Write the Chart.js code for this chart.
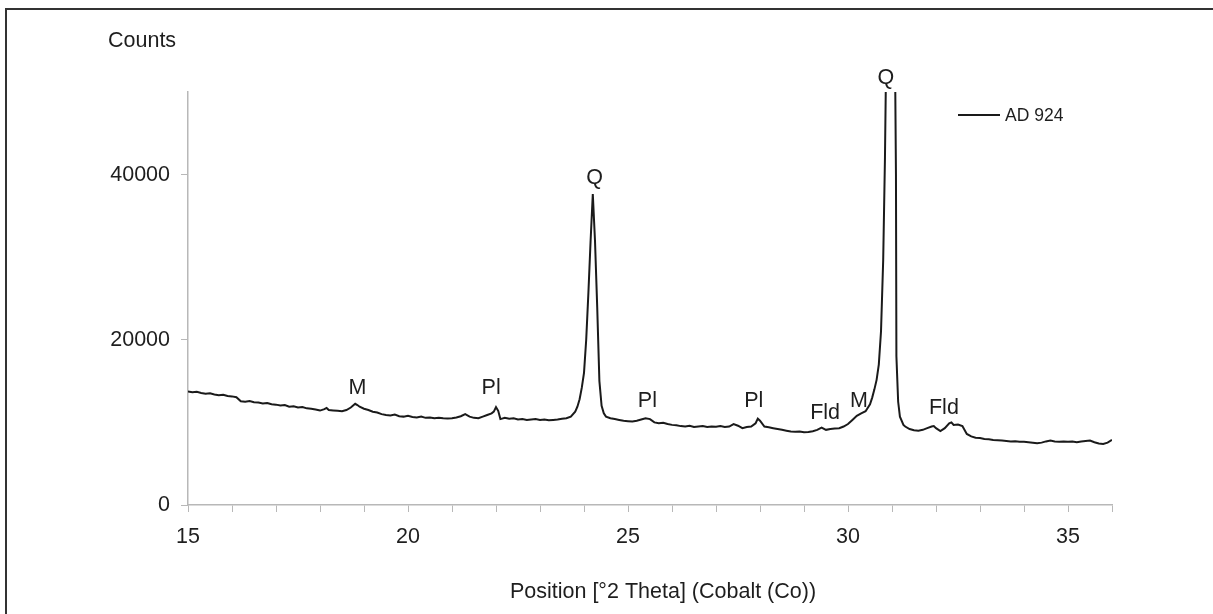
<!DOCTYPE html>
<html>
<head>
<meta charset="utf-8">
<script src="https://cdn.jsdelivr.net/npm/chart.js@4.4.1/dist/chart.umd.min.js"></script>
<style>
  html, body { margin: 0; padding: 0; background: #fff; }
  #wrap { width: 1213px; height: 614px; position: relative; }
</style>
</head>
<body>
<div id="wrap"><canvas id="myChart" width="1213" height="614"></canvas></div>
<script>
// diffractogram, AD 924
const theta = [
  15.0, 15.1, 15.2, 15.3, 15.4, 15.5, 15.6, 15.7, 15.8, 15.9,
  16.0, 16.1, 16.2, 16.3, 16.4, 16.5, 16.6, 16.7, 16.8, 16.9,
  17.0, 17.1, 17.2, 17.3, 17.4, 17.5, 17.6, 17.7, 17.8, 17.9,
  18.0, 18.1, 18.15, 18.2, 18.3, 18.4, 18.5, 18.6, 18.7, 18.8, 18.85, 18.9,
  19.0, 19.1, 19.2, 19.3, 19.4, 19.5, 19.6, 19.7, 19.8, 19.9,
  20.0, 20.1, 20.2, 20.3, 20.4, 20.5, 20.6, 20.7, 20.8, 20.9,
  21.0, 21.1, 21.2, 21.3, 21.4, 21.5, 21.6, 21.7, 21.8, 21.9, 21.95,
  22.0, 22.05, 22.1, 22.2, 22.3, 22.4, 22.5, 22.6, 22.7, 22.8, 22.9,
  23.0, 23.1, 23.2, 23.3, 23.4, 23.5, 23.6, 23.7, 23.8, 23.85, 23.9, 23.95,
  24.0, 24.05, 24.1, 24.15, 24.2, 24.25, 24.3, 24.35, 24.4, 24.45, 24.5, 24.6, 24.7, 24.8, 24.9,
  25.0, 25.1, 25.2, 25.3, 25.4, 25.5, 25.6, 25.7, 25.8, 25.9,
  26.0, 26.1, 26.2, 26.3, 26.4, 26.5, 26.6, 26.7, 26.8, 26.9,
  27.0, 27.1, 27.2, 27.3, 27.4, 27.5, 27.6, 27.7, 27.8, 27.9, 27.95,
  28.0, 28.1, 28.2, 28.3, 28.4, 28.5, 28.6, 28.7, 28.8, 28.9,
  29.0, 29.1, 29.2, 29.3, 29.4, 29.5, 29.6, 29.7, 29.8, 29.9,
  30.0, 30.1, 30.2, 30.3, 30.4, 30.5, 30.55, 30.6, 30.65, 30.7, 30.75, 30.8, 30.84, 30.88, 30.97,
  31.06, 31.09, 31.1, 31.14, 31.18, 31.26, 31.3, 31.4, 31.5, 31.6, 31.7, 31.8, 31.9, 31.95,
  32.0, 32.1, 32.2, 32.3, 32.35, 32.4, 32.5, 32.6, 32.7, 32.8, 32.9,
  33.0, 33.1, 33.2, 33.3, 33.4, 33.5, 33.6, 33.7, 33.8, 33.9,
  34.0, 34.1, 34.2, 34.3, 34.4, 34.5, 34.6, 34.7, 34.8, 34.9,
  35.0, 35.1, 35.2, 35.3, 35.4, 35.5, 35.6, 35.7, 35.8, 35.9, 36.0
];
const counts = [
  13730, 13650, 13700, 13560, 13480, 13520, 13380, 13300, 13350, 13200,
  13150, 13050, 12550, 12500, 12580, 12450, 12400, 12300, 12350, 12200,
  12150, 12050, 12100, 11900, 11950, 11800, 11850, 11700, 11650, 11550,
  11430, 11600, 11750, 11500, 11450, 11400, 11350, 11500, 11800, 12250, 12100, 11900,
  11650, 11500, 11300, 11200, 11000, 10900, 10850, 10950, 10750, 10700,
  10800, 10650, 10600, 10700, 10550, 10600, 10500, 10550, 10500, 10480,
  10500, 10600, 10750, 11000, 10700, 10550, 10500, 10700, 10900, 11100, 11300,
  11850, 11400, 10400, 10550, 10450, 10500, 10350, 10400, 10300, 10350, 10400,
  10300, 10350, 10250, 10300, 10350, 10450, 10500, 10700, 11300, 11900, 12800, 14200,
  16000, 20000, 25700, 32000, 37650, 32000, 24000, 15000, 12000, 11100, 10700, 10500, 10400, 10300, 10200,
  10150, 10100, 10200, 10350, 10500, 10400, 10000, 9900, 9950, 9800,
  9700, 9650, 9550, 9500, 9600, 9450, 9500, 9550, 9450, 9500,
  9480, 9550, 9450, 9500, 9800, 9600, 9300, 9450, 9500, 9900, 10450,
  10200, 9500, 9400, 9300, 9200, 9100, 9000, 8900, 8880, 8900,
  8800, 8850, 8940, 9100, 9370, 9100, 9200, 9250, 9300, 9500,
  9800, 10300, 10800, 11100, 11350, 12200, 13000, 14000, 15150, 17000, 21000, 29700, 42000, 60000, 75000,
  60000, 40000, 18000, 12500, 10700, 9700, 9500, 9200, 9050, 9000, 9100, 9300, 9500, 9550,
  9300, 8950, 9300, 9900, 10000, 9700, 9750, 9550, 8600, 8300, 8150,
  8100, 8000, 7950, 7880, 7850, 7800, 7750, 7700, 7720, 7670,
  7650, 7600, 7550, 7470, 7550, 7700, 7800, 7700, 7650, 7700,
  7650, 7700, 7600, 7700, 7750, 7800, 7600, 7450, 7400, 7550, 7880
];

// phase labels above the peaks
const peakLabels = ['M', 'Pl', 'Q', 'Pl', 'Pl', 'Fld', 'M', 'Q', 'Fld'];
const peakTheta  = [18.85, 21.89, 24.24, 25.44, 27.86, 29.48, 30.25, 30.86, 32.18];
const peakCounts = [14180, 14180, 39630, 12600, 12600, 11150, 12540, 51630, 11750];

const xTicks = [15, 20, 25, 30, 35];
const yTicks = [0, 20000, 40000];

const seriesName = 'AD 924';
const yTitle = 'Counts';
const xTitle = 'Position [°2 Theta] (Cobalt (Co))';

const FONT = '"Liberation Sans", Arial, sans-serif';
const FONT_SIZE = 21.5;
const TEXT = '#1e1e1e';
const AXIS = '#b8b8b8';

let ctx = document.getElementById('myChart').getContext('2d');

const extras = {
    id: 'extras',
    beforeDraw(chart) {
        let c = chart.ctx;
        c.save();
        c.fillStyle = '#fff';
        c.fillRect(0, 0, chart.width, chart.height);
        // outer frame (right and bottom edges fall outside the picture)
        c.strokeStyle = '#333';
        c.lineWidth = 2;
        c.strokeRect(6, 9, chart.width + 20, chart.height + 20);
        c.restore();
    },
    afterDatasetsDraw(chart) {
        let c = chart.ctx;
        let xs = chart.scales.x, ys = chart.scales.y;
        let area = chart.chartArea;
        c.save();
        c.font = FONT_SIZE + 'px ' + FONT;
        c.fillStyle = TEXT;
        c.textAlign = 'center';
        c.textBaseline = 'middle';
        peakLabels.forEach((t, i) => {
            c.fillText(t, xs.getPixelForValue(peakTheta[i]), ys.getPixelForValue(peakCounts[i]));
        });

        // axis titles
        c.textAlign = 'left';
        c.fillText(yTitle, 108, 41);
        c.textAlign = 'center';
        c.fillText(xTitle, (area.left + area.right) / 2 + 13, 592);

        // legend
        let ly = area.top + 23;
        c.strokeStyle = chart.data.datasets[0].borderColor;
        c.lineWidth = 2;
        c.beginPath();
        c.moveTo(958, ly);
        c.lineTo(1000, ly);
        c.stroke();
        c.textAlign = 'left';
        c.font = (FONT_SIZE - 4) + 'px ' + FONT;
        c.fillText(chart.data.datasets[0].label, 1005, ly + 1);
        c.restore();
    }
};

new Chart(ctx, {
    type: 'line',
    data: {
        datasets: [{
            label: seriesName,
            data: theta.map((t, i) => ({ x: t, y: counts[i] })),
            borderColor: '#1a1a1a',
            borderWidth: 2,
            pointRadius: 0,
            tension: 0,
            fill: false
        }]
    },
    options: {
        responsive: false,
        animation: false,
        events: [],
        layout: {
            padding: { left: 0, top: 92, right: 101, bottom: 0 }
        },
        plugins: {
            legend: { display: false },
            tooltip: { enabled: false }
        },
        scales: {
            x: {
                type: 'linear',
                min: 15,
                max: 36,
                afterFit: s => { s.height = 109; },
                ticks: {
                    stepSize: 1,
                    autoSkip: false,
                    maxRotation: 0,
                    padding: 12,
                    color: TEXT,
                    font: { family: FONT, size: FONT_SIZE },
                    callback: v => xTicks.includes(v) ? String(v) : ''
                },
                grid: {
                    drawOnChartArea: false,
                    drawTicks: true,
                    tickLength: 7,
                    color: AXIS
                },
                border: { display: true, color: AXIS, width: 1.5 }
            },
            y: {
                type: 'linear',
                min: 0,
                max: 50000,
                afterFit: s => { s.width = 188; },
                afterBuildTicks: s => { s.ticks = yTicks.map(v => ({ value: v })); },
                ticks: {
                    padding: 11,
                    color: TEXT,
                    font: { family: FONT, size: FONT_SIZE },
                    callback: v => String(v)
                },
                grid: {
                    drawOnChartArea: false,
                    drawTicks: true,
                    tickLength: 7,
                    color: AXIS
                },
                border: { display: true, color: AXIS, width: 1.5 }
            }
        }
    },
    plugins: [extras]
});
</script>
</body>
</html>
